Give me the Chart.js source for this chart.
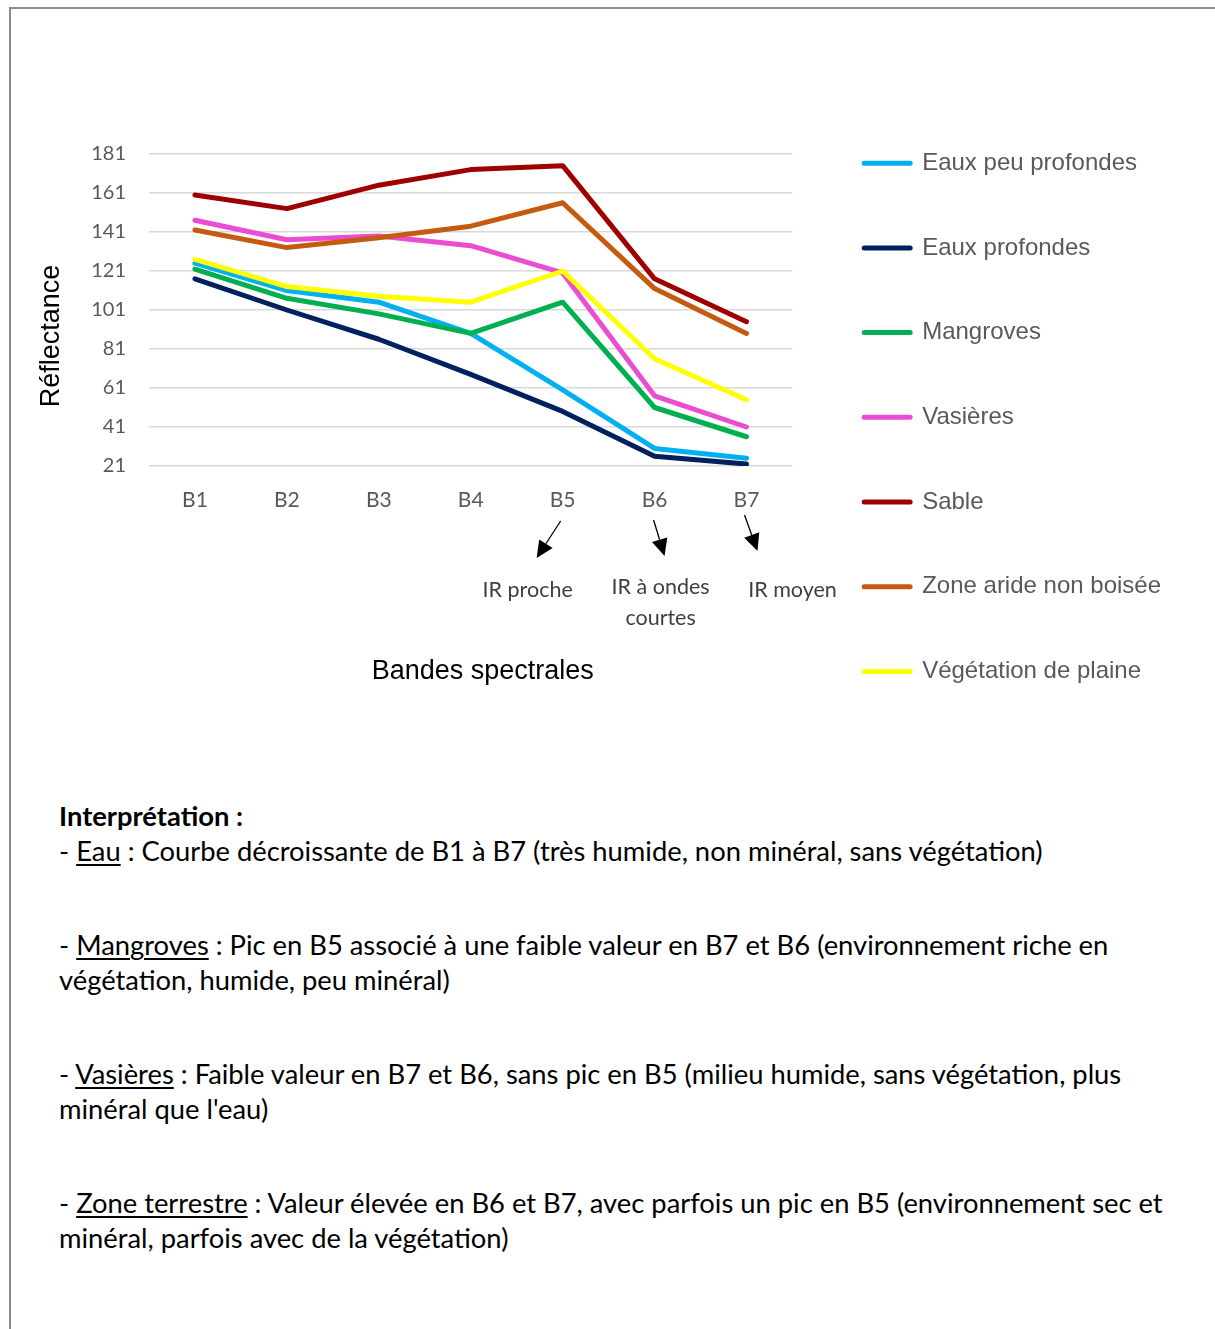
<!DOCTYPE html>
<html lang="fr">
<head>
<meta charset="utf-8">
<title>Réflectance par bande spectrale</title>
<script src="https://cdn.jsdelivr.net/npm/chart.js@4.4.1/dist/chart.umd.min.js"></script>
<style>
  html, body { margin: 0; padding: 0; background: #ffffff; }
  body { width: 1215px; height: 1329px; position: relative; overflow: hidden; }
  #frame {
    position: absolute; left: 9px; top: 7px; width: 1400px; height: 1500px;
    border-top: 2px solid #8c8c8c; border-left: 2px solid #8c8c8c;
  }
  #chartBox { position: absolute; left: 0; top: 0; width: 1215px; height: 760px; }
  #notes {
    position: absolute; left: 59px; top: 798px;
    font-family: Lato, "Noto Sans", sans-serif; font-size: 22px; color: #000;
    line-height: 35.3px; white-space: nowrap;
  }
  #notes .gap { margin-top: 58.3px; }
  #notes u { text-decoration-thickness: 1.5px; text-underline-offset: 3px; }
</style>
</head>
<body>
<div id="frame"></div>
<div id="chartBox"><canvas id="chart"></canvas></div>

<div id="notes">
  <div><b>Interprétation :</b></div>
  <div><span id="eauLine">- <u>Eau</u> : Courbe décroissante de B1 à B7 (très humide, non minéral, sans végétation)</span></div>
  <div class="gap">- <u>Mangroves</u> : Pic en B5 associé à une faible valeur en B7 et B6 (environnement riche en</div>
  <div>végétation, humide, peu minéral)</div>
  <div class="gap">- <u>Vasières</u> : Faible valeur en B7 et B6, sans pic en B5 (milieu humide, sans végétation, plus</div>
  <div>minéral que l'eau)</div>
  <div class="gap">- <u>Zone terrestre</u> : Valeur élevée en B6 et B7, avec parfois un pic en B5 (environnement sec et</div>
  <div>minéral, parfois avec de la végétation)</div>
</div>

<script>
// Spectral bands and reflectance per land cover
const bandes = ['B1', 'B2', 'B3', 'B4', 'B5', 'B6', 'B7'];
const eauxPeuProfondes = [125, 111, 105, 89, 60, 30, 25];
const eauxProfondes    = [117, 101, 86, 68, 49, 26, 22];
const mangroves        = [122, 107, 99, 89, 105, 51, 36];
const vasieres         = [147, 137, 139, 134, 120, 57, 41];
const sable            = [160, 153, 165, 173, 175, 117, 95];
const zoneAride        = [142, 133, 138, 144, 156, 112, 89];
const vegetationPlaine = [127, 113, 108, 105, 121, 76, 55];

const yTicks = [21, 41, 61, 81, 101, 121, 141, 161, 181];

const yTitle = 'Réflectance';
const xTitle = 'Bandes spectrales';
// Infrared notes under the last three bands
const irBands = ['B5', 'B6', 'B7'];
const irLabels = [['IR proche'], ['IR à ondes', 'courtes'], ['IR moyen']];

const series = [
  { label: 'Eaux peu profondes',   data: eauxPeuProfondes, color: '#00B0F0' },
  { label: 'Eaux profondes',       data: eauxProfondes,    color: '#002060' },
  { label: 'Mangroves',            data: mangroves,        color: '#00B050' },
  { label: 'Vasières',             data: vasieres,         color: '#EA4CD2' },
  { label: 'Sable',                data: sable,            color: '#9E0000' },
  { label: 'Zone aride non boisée', data: zoneAride,       color: '#C55A11' },
  { label: 'Végétation de plaine', data: vegetationPlaine, color: '#FFFF00' }
];

// Arrow with a filled triangular head
function drawArrow(ctx, x0, y0, x1, y1) {
  const ang = Math.atan2(y1 - y0, x1 - x0);
  const headLen = 17, headHalf = 8;
  const bx = x1 - headLen * Math.cos(ang), by = y1 - headLen * Math.sin(ang);
  ctx.beginPath();
  ctx.moveTo(x0, y0);
  ctx.lineTo(bx, by);
  ctx.stroke();
  ctx.beginPath();
  ctx.moveTo(x1, y1);
  ctx.lineTo(bx + headHalf * Math.sin(ang), by - headHalf * Math.cos(ang));
  ctx.lineTo(bx - headHalf * Math.sin(ang), by + headHalf * Math.cos(ang));
  ctx.closePath();
  ctx.fill();
}

// Let the side legend keep its natural width instead of the default share
const wideLegend = {
  id: 'wideLegend',
  beforeLayout(chart) {
    const lg = chart.legend;
    if (lg && !lg._wide) {
      const fit = lg.fit;
      lg.fit = function () {
        const mw = this.maxWidth;
        this.maxWidth = 10000;
        fit.call(this);
        this.maxWidth = mw;
      };
      lg._wide = true;
    }
  }
};

const annotations = {
  id: 'bandAnnotations',
  afterDraw(chart) {
    const { ctx, chartArea } = chart;
    const xs = chart.scales.x;
    const bottom = chartArea.bottom;
    ctx.save();

    // axis titles
    ctx.fillStyle = '#000';
    ctx.font = '27px "Liberation Sans", Arial, sans-serif';
    ctx.textAlign = 'center';
    ctx.textBaseline = 'middle';
    ctx.save();
    ctx.translate(chartArea.left - 97.5, (chartArea.top + chartArea.bottom) / 2 + 26);
    ctx.rotate(-Math.PI / 2);
    ctx.fillText(yTitle, 0, 0);
    ctx.restore();
    ctx.fillText(xTitle, (chartArea.left + chartArea.right) / 2 + 12, bottom + 206);

    // arrows from the band labels to their infrared notes
    ctx.strokeStyle = '#000';
    ctx.lineWidth = 1.3;
    const arrowGeom = [
      [-2, 55, -26, 92],
      [-1, 54, 10, 90],
      [-2, 49, 11, 85]
    ];
    const textGeom = [
      [-35, 124],
      [6, 121],
      [46, 124]
    ];
    ctx.font = '21.5px Lato, "Noto Sans", sans-serif';
    irBands.forEach((band, i) => {
      const px = xs.getPixelForValue(bandes.indexOf(band));
      const g = arrowGeom[i];
      ctx.fillStyle = '#000';
      drawArrow(ctx, px + g[0], bottom + g[1], px + g[2], bottom + g[3]);
      ctx.fillStyle = '#3f3f3f';
      irLabels[i].forEach((line, j) => {
        ctx.fillText(line, px + textGeom[i][0], bottom + textGeom[i][1] + j * 31);
      });
    });
    ctx.restore();
  }
};

const n = series.length;
new Chart(document.getElementById('chart'), {
  type: 'line',
  data: {
    labels: bandes,
    datasets: series.map((s, i) => ({
      label: s.label,
      data: s.data,
      borderColor: s.color,
      backgroundColor: s.color,
      borderWidth: 5,
      borderJoinStyle: 'round',
      borderCapStyle: 'round',
      pointRadius: 0,
      pointHoverRadius: 0,
      tension: 0,
      fill: false,
      order: n - i
    }))
  },
  options: {
    responsive: true,
    maintainAspectRatio: false,
    animation: false,
    events: [],
    layout: { padding: { top: 90.5, left: 0, right: 44, bottom: 0 } },
    scales: {
      x: {
        type: 'category',
        offset: true,
        grid: { display: false, drawTicks: false },
        border: { display: false },
        ticks: {
          padding: 22,
          color: '#595959',
          font: { family: 'Lato', size: 21 }
        },
        afterFit(scale) { scale.height = 294; }
      },
      y: {
        type: 'linear',
        min: 21,
        max: 181,
        grid: { color: '#d9d9d9', lineWidth: 1.6, drawTicks: false },
        border: { display: false },
        ticks: {
          padding: 23,
          color: '#595959',
          font: { family: 'Lato', size: 20 }
        },
        afterBuildTicks(scale) { scale.ticks = yTicks.map(v => ({ value: v })); },
        afterFit(scale) { scale.width = 149; }
      },
      gap: {
        type: 'linear',
        position: 'right',
        display: true,
        grid: { display: false, drawTicks: false },
        border: { display: false },
        ticks: { display: false },
        afterFit(scale) { scale.width = 11; }
      }
    },
    plugins: {
      title: {
        display: true,
        text: '',
        fullSize: false,
        font: { size: 10 },
        padding: { top: 0, bottom: 51.5 }
      },
      tooltip: { enabled: false },
      legend: {
        position: 'right',
        align: 'start',
        labels: {
          color: '#595959',
          font: { family: '"Liberation Sans"', size: 24 },
          boxWidth: 46,
          boxHeight: 0,
          padding: 60.7,
          sort: (a, b) => a.datasetIndex - b.datasetIndex
        }
      }
    }
  },
  plugins: [wideLegend, annotations]
});

// Size the commentary so its first statement spans the same width as the chart block
(function fitNotes() {
  const notes = document.getElementById('notes');
  const w = document.getElementById('eauLine').getBoundingClientRect().width;
  if (w > 0) notes.style.fontSize = (22 * 984 / w).toFixed(2) + 'px';
})();
</script>
</body>
</html>
